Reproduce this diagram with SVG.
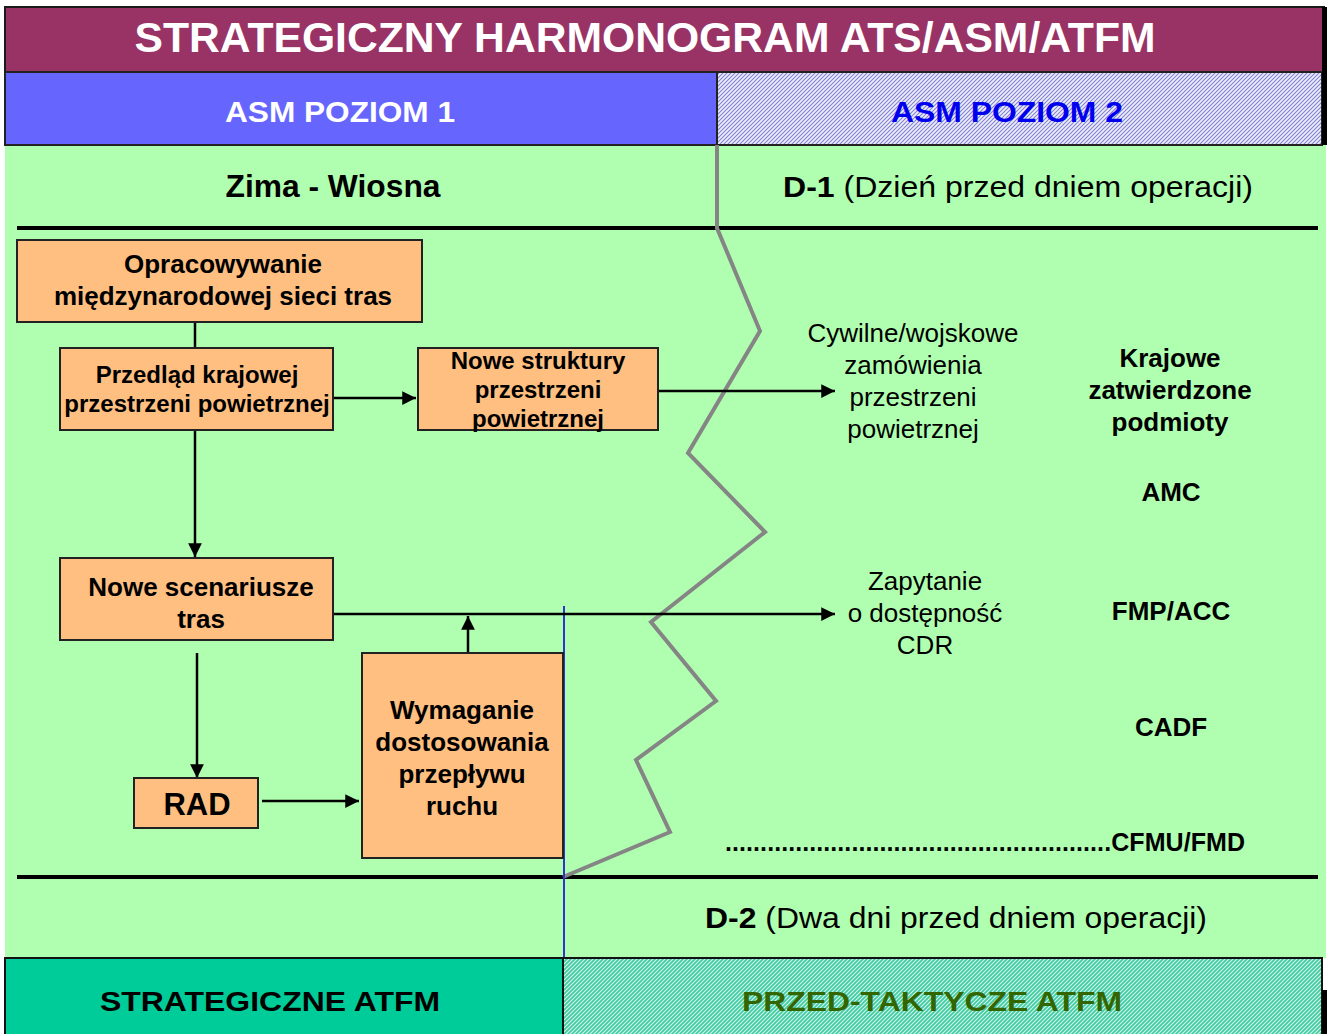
<svg xmlns="http://www.w3.org/2000/svg" width="1332" height="1034" viewBox="0 0 1332 1034">
  <defs>
    <pattern id="hatchBlue" width="4" height="4" patternUnits="userSpaceOnUse">
      <rect width="4" height="4" fill="#EEEEFC"/>
      <path d="M-1,1 L1,-1 M0,4 L4,0 M3,5 L5,3" stroke="#8080D0" stroke-width="1.1"/>
    </pattern>
    <pattern id="hatchTeal" width="4" height="4" patternUnits="userSpaceOnUse">
      <rect width="4" height="4" fill="#3FCCA2"/>
      <path d="M-1,1 L1,-1 M0,4 L4,0 M3,5 L5,3" stroke="#D8F6EC" stroke-width="1.1"/>
    </pattern>
    <marker id="arrow" viewBox="0 0 10 10" refX="10" refY="5" markerWidth="5.5" markerHeight="5.5" orient="auto" markerUnits="strokeWidth">
      <path d="M0,0 L10,5 L0,10 Z" fill="#000"/>
    </marker>
    <style>
      .box { fill: #FFBF80; stroke: #222; stroke-width: 2; }
      .t { font-family: "Liberation Sans", Arial, sans-serif; fill: #000; text-anchor: middle; }
      .b { font-weight: bold; }
      .conn { stroke: #000; stroke-width: 2.5; fill: none; }
      .rule { stroke: #000; stroke-width: 4; }
    </style>
  </defs>

  <!-- background -->
  <rect x="0" y="0" width="1332" height="1034" fill="#FFFFFF"/>
  <rect x="5" y="145" width="1321" height="813" fill="#B0FFB0"/>

  <!-- title bar -->
  <g id="title">
    <rect x="5" y="7" width="1319" height="65" fill="#993366" stroke="#1a1a1a" stroke-width="2"/>
    <text class="t b" x="645" y="52" font-size="42" style="fill:#FFFFFF" textLength="1021" lengthAdjust="spacingAndGlyphs">STRATEGICZNY HARMONOGRAM ATS/ASM/ATFM</text>
  </g>

  <!-- ASM level bands -->
  <g id="asm1">
    <rect x="5" y="72" width="712" height="73" fill="#6666FF" stroke="#222" stroke-width="2"/>
    <text class="t b" x="340" y="122" font-size="30" style="fill:#FFFFFF" textLength="230" lengthAdjust="spacingAndGlyphs">ASM POZIOM 1</text>
  </g>
  <g id="asm2">
    <rect x="717" y="72" width="605" height="73" fill="url(#hatchBlue)" stroke="#222" stroke-width="2"/>
    <text class="t b" x="1007" y="122" font-size="30" style="fill:#0000EE" textLength="232" lengthAdjust="spacingAndGlyphs">ASM POZIOM 2</text>
  </g>
  <rect x="1322" y="7" width="5" height="138" fill="#000"/>

  <!-- period headings -->
  <g id="period-strategic">
    <text class="t b" x="333" y="197" font-size="31" textLength="215" lengthAdjust="spacingAndGlyphs">Zima - Wiosna</text>
  </g>
  <g id="period-d1">
    <text class="t" x="1018" y="197" font-size="30" textLength="470" lengthAdjust="spacingAndGlyphs"><tspan font-weight="bold">D-1</tspan> (Dzień przed dniem operacji)</text>
  </g>

  <!-- horizontal separators -->
  <line class="rule" x1="17" y1="228" x2="1318" y2="228"/>
  <line class="rule" x1="17" y1="877" x2="1318" y2="877"/>

  <!-- boundary between planning phases -->
  <polyline points="717,145 717,228 760,331 688,453 765,532 651,622 716,701 636,760 670,832 563,877" fill="none" stroke="#858585" stroke-width="4" stroke-linejoin="miter"/>
  <line x1="564" y1="606" x2="564" y2="958" stroke="#3333CC" stroke-width="2"/>

  <!-- connectors -->
  <g id="connectors">
    <line class="conn" x1="195" y1="322" x2="195" y2="348" stroke-width="2"/>
    <line class="conn" x1="195" y1="430" x2="195" y2="557" stroke-width="2" marker-end="url(#arrow)"/>
    <line class="conn" x1="333" y1="398" x2="416" y2="398" marker-end="url(#arrow)"/>
    <line class="conn" x1="658" y1="391" x2="835" y2="391" marker-end="url(#arrow)"/>
    <line class="conn" x1="333" y1="614" x2="835" y2="614" marker-end="url(#arrow)"/>
    <line class="conn" x1="197" y1="653" x2="197" y2="778" stroke-width="2" marker-end="url(#arrow)"/>
    <line class="conn" x1="262" y1="801" x2="359" y2="801" stroke-width="2" marker-end="url(#arrow)"/>
    <line class="conn" x1="468" y1="653" x2="468" y2="616" stroke-width="2" marker-end="url(#arrow)"/>
  </g>

  <!-- process boxes -->
  <g id="node-opracowywanie">
    <rect class="box" x="17" y="240" width="405" height="82"/>
    <text class="t b" x="223" y="273" font-size="26">Opracowywanie</text>
    <text class="t b" x="223" y="305" font-size="26">międzynarodowej sieci tras</text>
  </g>
  <g id="node-przeglad">
    <rect class="box" x="60" y="348" width="273" height="82"/>
    <text class="t b" x="197" y="383" font-size="24">Przedląd krajowej</text>
    <text class="t b" x="197" y="412" font-size="24">przestrzeni powietrznej</text>
  </g>
  <g id="node-struktury">
    <rect class="box" x="418" y="348" width="240" height="82"/>
    <text class="t b" x="538" y="369" font-size="24">Nowe struktury</text>
    <text class="t b" x="538" y="398" font-size="24">przestrzeni</text>
    <text class="t b" x="538" y="427" font-size="24">powietrznej</text>
  </g>
  <g id="node-scenariusze">
    <rect class="box" x="60" y="558" width="273" height="82"/>
    <text class="t b" x="201" y="596" font-size="26">Nowe scenariusze</text>
    <text class="t b" x="201" y="628" font-size="26">tras</text>
  </g>
  <g id="node-rad">
    <rect class="box" x="134" y="778" width="124" height="50"/>
    <text class="t b" x="197" y="815" font-size="31">RAD</text>
  </g>
  <g id="node-wymaganie">
    <rect class="box" x="362" y="653" width="201" height="205"/>
    <text class="t b" x="462" y="719" font-size="26">Wymaganie</text>
    <text class="t b" x="462" y="751" font-size="26">dostosowania</text>
    <text class="t b" x="462" y="783" font-size="26">przepływu</text>
    <text class="t b" x="462" y="815" font-size="26">ruchu</text>
  </g>

  <!-- D-1 labels -->
  <g id="label-zamowienia">
    <text class="t" x="913" y="342" font-size="26">Cywilne/wojskowe</text>
    <text class="t" x="913" y="374" font-size="26">zamówienia</text>
    <text class="t" x="913" y="406" font-size="26">przestrzeni</text>
    <text class="t" x="913" y="438" font-size="26">powietrznej</text>
  </g>
  <g id="label-zapytanie">
    <text class="t" x="925" y="590" font-size="26">Zapytanie</text>
    <text class="t" x="925" y="622" font-size="26">o dostępność</text>
    <text class="t" x="925" y="654" font-size="26">CDR</text>
  </g>
  <g id="actors">
    <text class="t b" x="1170" y="367" font-size="26">Krajowe</text>
    <text class="t b" x="1170" y="399" font-size="26">zatwierdzone</text>
    <text class="t b" x="1170" y="431" font-size="26">podmioty</text>
    <text class="t b" x="1171" y="501" font-size="26">AMC</text>
    <text class="t b" x="1171" y="620" font-size="26">FMP/ACC</text>
    <text class="t b" x="1171" y="736" font-size="26">CADF</text>
    <text class="t b" x="985" y="851" font-size="25" textLength="520" lengthAdjust="spacing">.......................................................CFMU/FMD</text>
  </g>

  <!-- D-2 heading -->
  <g id="period-d2">
    <text class="t" x="956" y="928" font-size="30" textLength="502" lengthAdjust="spacingAndGlyphs"><tspan font-weight="bold">D-2</tspan> (Dwa dni przed dniem operacji)</text>
  </g>

  <!-- ATFM phase bands -->
  <g id="atfm-strategic">
    <rect x="5" y="958" width="558" height="80" fill="#00CC99" stroke="#111" stroke-width="2"/>
    <text class="t b" x="270" y="1011" font-size="28" textLength="340" lengthAdjust="spacingAndGlyphs">STRATEGICZNE ATFM</text>
  </g>
  <g id="atfm-pretactical">
    <rect x="563" y="958" width="759" height="80" fill="url(#hatchTeal)" stroke="#111" stroke-width="2"/>
    <text class="t b" x="932" y="1011" font-size="28" style="fill:#336600" textLength="380" lengthAdjust="spacingAndGlyphs">PRZED-TAKTYCZE ATFM</text>
  </g>
  <rect x="1322" y="990" width="5" height="44" fill="#000"/>
</svg>
